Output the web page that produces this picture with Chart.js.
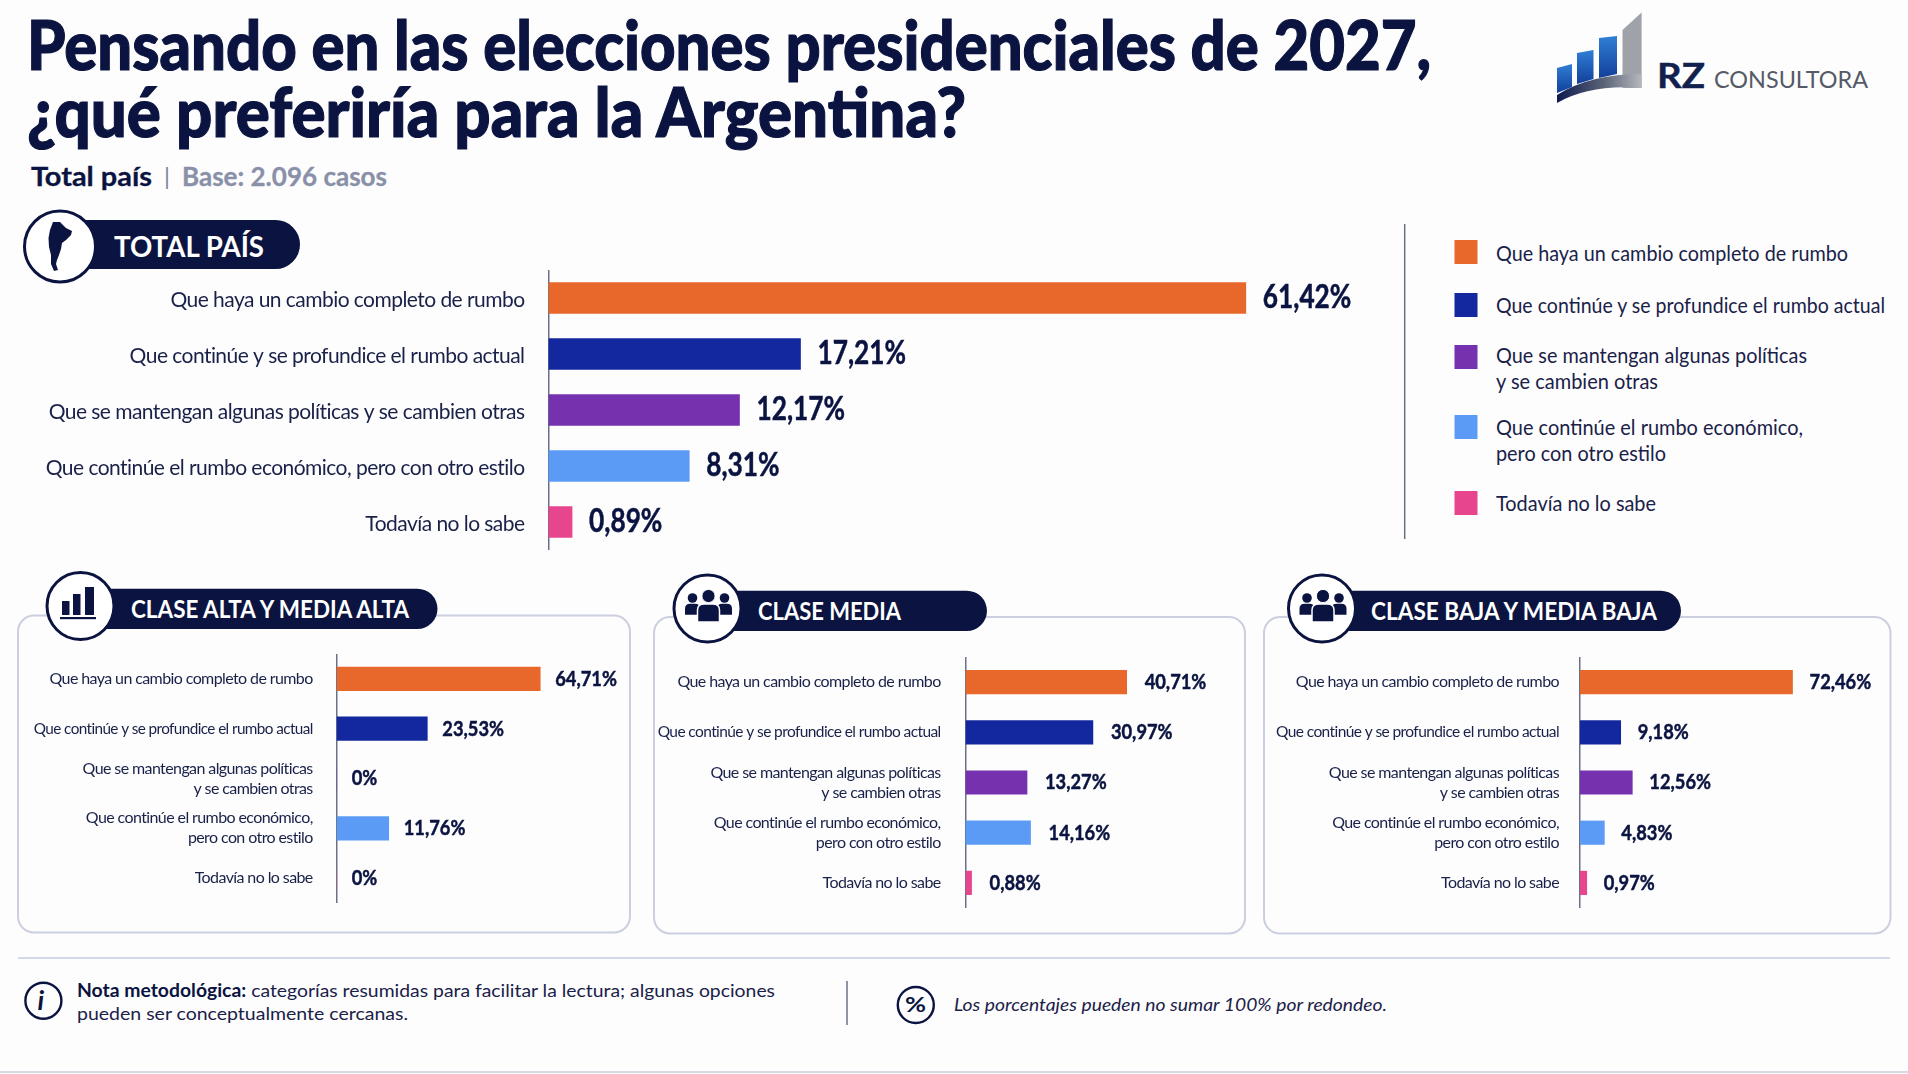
<!DOCTYPE html>
<html lang="es">
<head>
<meta charset="utf-8">
<title>Elecciones presidenciales 2027</title>
<script src="https://cdn.jsdelivr.net/npm/chart.js@4/dist/chart.umd.js"></script>
<style>
html,body{margin:0;padding:0;background:#fdfdfe;width:1908px;height:1074px;overflow:hidden}
canvas,svg,.t{position:absolute}
svg{left:0;top:0}
.t{white-space:pre;line-height:1;transform-origin:0 0;font-family:Lato,sans-serif}
</style>
</head>
<body>
<svg id="deco" width="1908" height="1074" viewBox="0 0 1908 1074"></svg>
<canvas id="cTotal"></canvas>
<canvas id="cAlta"></canvas>
<canvas id="cMedia"></canvas>
<canvas id="cBaja"></canvas>
<script>
// ---- data ----
const categories = ['Que haya un cambio completo de rumbo','Que continúe y se profundice el rumbo actual','Que se mantengan algunas políticas y se cambien otras','Que continúe el rumbo económico, pero con otro estilo','Todavía no lo sabe'];
const categoriesWrapped = ['Que haya un cambio completo de rumbo','Que continúe y se profundice el rumbo actual',['Que se mantengan algunas políticas','y se cambien otras'],['Que continúe el rumbo económico,','pero con otro estilo'],'Todavía no lo sabe'];
const totalValues = [61.42,17.21,12.17,8.31,0.89];
const altaValues  = [64.71,23.53,0,11.76,0];
const mediaValues = [40.71,30.97,13.27,14.16,0.88];
const bajaValues  = [72.46,9.18,12.56,4.83,0.97];
const barColors = ['#E8672B','#13279E','#7632AE','#5C9BF5','#E8458F'];
const NAVY = '#0B1440', INK = '#1A2148';

// The reference's bars are not linear in their printed values (small values are drawn
// relatively longer), so each chart uses a power-law value axis driven by the printed values.
class PowerScale extends Chart.LinearScale {
  getPixelForValue(v){
    const r = Math.max(0,(v-this.min)/(this.max-this.min));
    return this.getPixelForDecimal(Math.pow(r,this.options.exponent));
  }
  getValueForPixel(p){
    return this.min + Math.pow(this.getDecimalForPixel(p),1/this.options.exponent)*(this.max-this.min);
  }
}
PowerScale.id = 'power';
PowerScale.defaults = {};
Chart.register(PowerScale);

const fmt = v => v===0 ? '0%' : v.toFixed(2).replace('.',',')+'%';

const valueLabels = {
  id:'valueLabels',
  beforeDraw(chart,args,o){ chart.ctx.letterSpacing = o.tickSpacing; },
  afterDatasetsDraw(chart,args,o){
    const ctx = chart.ctx, meta = chart.getDatasetMeta(0), data = chart.data.datasets[0].data;
    ctx.save();
    ctx.letterSpacing = '0px';
    ctx.font = '700 '+o.size+'px Lato';
    ctx.fillStyle = NAVY;
    ctx.strokeStyle = NAVY;
    ctx.lineWidth = 0.5;
    ctx.textBaseline = 'middle';
    ctx.textAlign = 'left';
    meta.data.forEach((el,i)=>{
      ctx.save();
      ctx.translate(el.x+o.gap, el.y);
      ctx.scale(o.squeeze,1);
      ctx.fillText(fmt(data[i]),0,0);
      ctx.strokeText(fmt(data[i]),0,0);
      ctx.restore();
    });
    ctx.restore();
  }
};

function drawChart(id,labels,values,c){
  const cv = document.getElementById(id);
  cv.width = c.right-c.left; cv.height = c.bottom-c.top;
  cv.style.left = c.left+'px'; cv.style.top = c.top+'px';
  return new Chart(cv,{
    type:'bar',
    data:{labels,datasets:[{data:values,backgroundColor:barColors,barThickness:c.bar,borderWidth:0}]},
    plugins:[valueLabels],
    options:{
      indexAxis:'y',responsive:false,animation:false,
      layout:{padding:{left:0,top:0,bottom:0,right:c.padR||0}},
      plugins:{legend:{display:false},tooltip:{enabled:false},
        valueLabels:{size:c.valSize,gap:c.gap,squeeze:c.squeeze,tickSpacing:c.tickSpacing}},
      scales:{
        x:{type:'power',display:false,min:0,max:c.max,exponent:c.exp},
        y:{type:'category',
           afterFit(s){s.width=c.axisX-c.left;s.paddingTop=0;s.paddingBottom=0;},
           grid:{display:false,drawTicks:false},
           border:{display:true,color:'#6A7088',width:1.5},
           ticks:{autoSkip:false,padding:c.pad,color:INK,labelOffset:c.off||0,
                  font:t=>({family:'Lato',size:(c.font2&&t.index===1)?c.font2:c.font,lineHeight:c.lh})}}
      }
    }
  });
}

drawChart('cTotal',categories,totalValues,{left:20,right:1410,top:270,bottom:550,axisX:548.5,bar:31,max:80,exp:0.8,valSize:32,gap:17,squeeze:0.82,pad:24,font:21,lh:1.2,tickSpacing:'-0.55px',off:2});
drawChart('cAlta',categoriesWrapped,altaValues,{left:20,right:625,top:654,bottom:903,axisX:336.7,bar:23.5,max:100,exp:0.8,valSize:21.5,gap:15,squeeze:0.85,pad:24,font:16,font2:15.3,lh:1.25,tickSpacing:'-0.6px'});
drawChart('cMedia',categoriesWrapped,mediaValues,{left:640,right:1238,top:656.5,bottom:908,axisX:965.6,bar:23.5,max:75,exp:0.86,valSize:21.5,gap:18,squeeze:0.85,pad:25,font:16,font2:15.5,lh:1.25,tickSpacing:'-0.6px'});
drawChart('cBaja',categoriesWrapped,bajaValues,{left:1270,right:1885,top:656.5,bottom:908,axisX:1580,bar:23.5,max:100,exp:0.8,padR:30,valSize:21.5,gap:17,squeeze:0.85,pad:21,font:16,font2:15.5,lh:1.25,tickSpacing:'-0.6px'});

// ---- page furniture ----
const GLYPH_BASE = 0.887; // Lato baseline offset inside a line-height:1 box
function T(html,x,base,size,o={}){
  const s = document.createElement('div');
  s.className='t';
  s.innerHTML = html;
  s.style.left = x+'px';
  s.style.top = (base-GLYPH_BASE*size)+'px';
  s.style.fontSize = size+'px';
  s.style.fontWeight = o.weight||400;
  s.style.color = o.color||INK;
  if(o.italic) s.style.fontStyle='italic';
  if(o.stroke) s.style.webkitTextStroke = o.stroke+'px '+(o.color||INK);
  document.body.appendChild(s);
  if(o.w){ s.style.transform='scaleX('+(o.w/s.getBoundingClientRect().width)+')'; }
  return s;
}
T('Pensando en las elecciones presidenciales de 2027,',27,70.4,68,{weight:900,color:NAVY,w:1404,stroke:1.2});
T('¿qué preferiría para la Argentina?',27,137.5,68,{weight:900,color:NAVY,w:939,stroke:1.2});
T('Total país',31,186.4,26,{weight:700,color:NAVY,w:121,stroke:0.3});
T('|',164,185,24,{color:'#7C829C'});
T('Base: 2.096 casos',182,186.4,26,{weight:700,color:'#8A90A8',w:205,stroke:0.3});

T('TOTAL PAÍS',114,256.4,29,{weight:700,color:'#fff',w:150});
T('CLASE ALTA Y MEDIA ALTA',131,619,25.5,{weight:700,color:'#fff',w:278});
T('CLASE MEDIA',758,621,25.5,{weight:700,color:'#fff',w:143});
T('CLASE BAJA Y MEDIA BAJA',1370.7,621,25.5,{weight:700,color:'#fff',w:286});

T('RZ',1657,88,35,{weight:700,color:'#12204E',w:48,stroke:0.4});
T('CONSULTORA',1714,88,24,{color:'#555A66',w:154});

const legendRows = [
  {y:240,color:barColors[0],lines:['Que haya un cambio completo de rumbo'],base:[261],w:[352]},
  {y:293,color:barColors[1],lines:['Que continúe y se profundice el rumbo actual'],base:[313],w:[389]},
  {y:345,color:barColors[2],lines:['Que se mantengan algunas políticas','y se cambien otras'],base:[363,389],w:[311,162]},
  {y:415,color:barColors[3],lines:['Que continúe el rumbo económico,','pero con otro estilo'],base:[435,461],w:[307,170]},
  {y:491,color:barColors[4],lines:['Todavía no lo sabe'],base:[511],w:[160]}
];
let svg = '';
legendRows.forEach(r=>{
  svg += `<rect x="1454.5" y="${r.y}" width="23" height="24" fill="${r.color}"/>`;
  r.lines.forEach((l,i)=>T(l,1496,r.base[i],21,{w:r.w[i]}));
});
T('<b style="font-weight:700;color:#0B1440">Nota metodológica:</b> categorías resumidas para facilitar la lectura; algunas opciones',76.5,996.5,18,{w:698});
T('pueden ser conceptualmente cercanas.',76.5,1020,18,{w:331});
T('Los porcentajes pueden no sumar 100% por redondeo.',954,1012,17.5,{italic:true,w:433});

// icons and frames
function badge(cx,cy,r,pillTop,pillBottom,pillRight,icon){
  const h = pillBottom-pillTop;
  return `<path d="M${cx} ${pillTop}H${pillRight-h/2}a${h/2} ${h/2} 0 0 1 0 ${h}H${cx}Z" fill="${NAVY}"/>
  <circle cx="${cx}" cy="${cy}" r="${r}" fill="#fff" stroke="${NAVY}" stroke-width="3"/>${icon}`;
}
function people(cx,cy){
  const p=(dx,dy,hr,bw,bh)=>`<circle cx="${cx+dx}" cy="${cy+dy}" r="${hr}" fill="${NAVY}"/>
  <path d="M${cx+dx-bw} ${cy+dy+hr+bh+1}v${-bh*0.55}q0 ${-bh*0.45} ${bw*0.7} ${-bh*0.45}h${bw*0.6}q${bw*0.7} 0 ${bw*0.7} ${bh*0.45}v${bh*0.55}Z" fill="${NAVY}"/>`;
  return p(-16,-9,4.8,7.5,11)+p(16,-9,4.8,7.5,11)+
    `<circle cx="${cx}" cy="${cy-11}" r="6.6" fill="${NAVY}" stroke="#fff" stroke-width="1"/>
     <path d="M${cx-11} ${cy+15}v-12q0-6 7-6h8q7 0 7 6v12Z" fill="${NAVY}" stroke="#fff" stroke-width="1.5"/>`;
}
const barsIcon = `<rect x="62" y="601" width="7.5" height="14" fill="${NAVY}"/><rect x="73" y="594" width="7.5" height="21" fill="${NAVY}"/><rect x="85" y="587" width="9" height="28" fill="${NAVY}"/><rect x="60" y="617" width="36" height="2.2" fill="${NAVY}"/>`;
const mapIcon = `<path d="M53 222L60 222L66 228L72 231L71 235L66 240L62 243L61 249L59 255L57 260L56 264L58 270L54 271L51 264L51 255L49 247L48.5 238L50 230Z" fill="${NAVY}"/>`;
const card = (x,y,w,h)=>`<rect x="${x}" y="${y}" width="${w}" height="${h}" rx="16" fill="none" stroke="#CBCFDF" stroke-width="2"/>`;

svg += card(18,615.5,612,317)+card(654,617,591,316.5)+card(1264,617,626.5,316.5);
svg += badge(60,246.5,35.5,220,269,300,mapIcon);
svg += badge(80.5,606,33.5,588.7,629,437.5,barsIcon);
svg += badge(707.5,608.5,33.5,590.7,631,987,people(708.5,607));
svg += badge(1322,608.5,33.5,590.7,631,1681,people(1323,607));

svg += `<line x1="1404.7" y1="224" x2="1404.7" y2="539" stroke="#6A7088" stroke-width="1.5"/>`;
svg += `<line x1="18" y1="958" x2="1890" y2="958" stroke="#D5D8E6" stroke-width="2"/>`;
svg += `<line x1="0" y1="1072" x2="1908" y2="1072" stroke="#C9CCD6" stroke-width="1.5"/>`;
svg += `<line x1="847" y1="981" x2="847" y2="1025" stroke="#6A7088" stroke-width="1.5"/>`;
svg += `<circle cx="43.4" cy="1000.7" r="18" fill="none" stroke="${NAVY}" stroke-width="2.4"/>`;
svg += `<circle cx="915.8" cy="1005" r="18" fill="none" stroke="${NAVY}" stroke-width="2.4"/>`;

// logo
svg += `<defs><linearGradient id="lb" x1="0" y1="0" x2="0" y2="1"><stop offset="0" stop-color="#2F7FD6"/><stop offset="1" stop-color="#123F9A"/></linearGradient>
<linearGradient id="lg" x1="0" y1="0" x2="1" y2="0"><stop offset="0" stop-color="#0E1A50"/><stop offset="0.55" stop-color="#5A6376"/><stop offset="1" stop-color="#B5B8BE"/></linearGradient></defs>
<path d="M1557 68L1572 64V87L1557 93Z" fill="url(#lb)"/><path d="M1577 53L1593.5 50V79L1577 84Z" fill="url(#lb)"/><path d="M1599 38L1617 36V74L1599 78Z" fill="url(#lb)"/>
<path d="M1622.5 30L1641.6 12.5V88H1622.5Z" fill="#9FA3A9"/>
<path d="M1557 95Q1590 74 1641.6 74V88Q1590 84 1557 103Z" fill="url(#lg)"/>`;
document.getElementById('deco').innerHTML = svg;
T('i',37.5,1010,27,{italic:true,weight:700,color:NAVY});
T('%',905,1012,21,{weight:700,color:NAVY,w:21});
</script>
</body>
</html>
